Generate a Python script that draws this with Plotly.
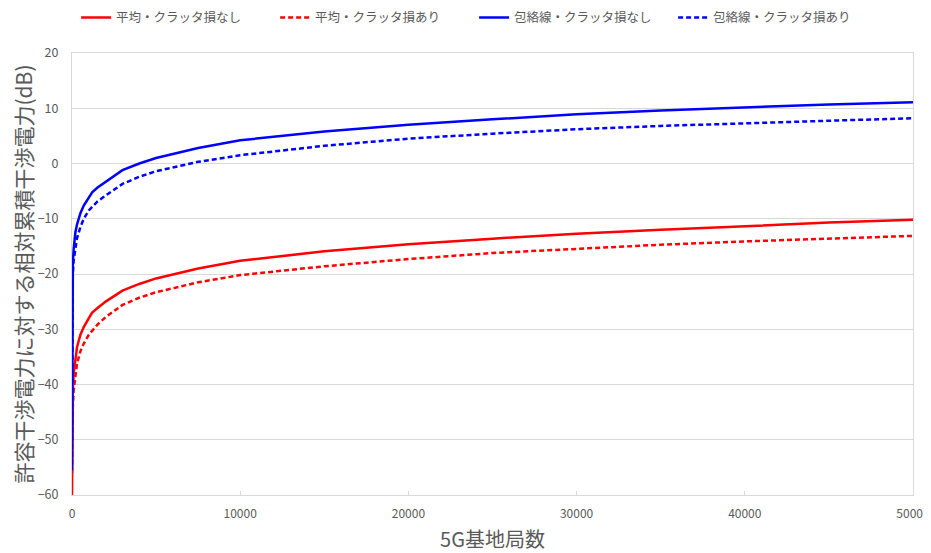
import plotly.graph_objects as go

# 5G基地局数
stations = [1, 20, 50, 100, 200, 300, 500, 700, 1000, 1200, 1500, 2000, 2500, 3000,
            4000, 5000, 7500, 10000, 15000, 20000, 25000, 30000, 35000, 40000,
            45000, 50000]

# 相対累積干渉電力 (dB)
mean_no_clutter = [-60, -45, -41, -38, -35, -33.2, -31, -29.6, -28, -27, -26.2, -25,
                   -24.0, -23, -21.8, -20.8, -19, -17.6, -15.9, -14.6, -13.6, -12.7,
                   -12.0, -11.3, -10.7, -10.2]
mean_clutter = [-56, -48, -44, -41, -38, -36.2, -34, -32.6, -31, -30.3, -29.2, -27.8,
                -26.7, -25.6, -24.3, -23.3, -21.5, -20.2, -18.6, -17.3, -16.2, -15.4,
                -14.7, -14.1, -13.6, -13.1]
env_no_clutter = [-55.5, -25, -18, -15.5, -12.5, -11, -9, -7.6, -6, -5.2, -4.4, -3.3,
                  -2.2, -1.2, 0, 1.0, 2.8, 4.2, 5.8, 7.0, 8.0, 8.9, 9.6, 10.2, 10.7, 11.1]
env_clutter = [-50, -28, -20, -17.5, -15, -13.5, -11.5, -10, -8.5, -7.8, -6.9, -5.8,
               -4.7, -3.7, -2.4, -1.4, 0.3, 1.5, 3.2, 4.5, 5.4, 6.2, 6.8, 7.3, 7.8, 8.2]

series_names = ["平均・クラッタ損なし", "平均・クラッタ損あり",
                "包絡線・クラッタ損なし", "包絡線・クラッタ損あり"]

FONT = "Noto Sans CJK JP"
GRAY = "#595959"
GRID = "#d9d9d9"

fig = go.Figure()
for name, ys, color, dash in [
    (series_names[0], mean_no_clutter, "#ff0000", "solid"),
    (series_names[1], mean_clutter, "#ff0000", "5px,3px"),
    (series_names[2], env_no_clutter, "#0000ff", "solid"),
    (series_names[3], env_clutter, "#0000ff", "5px,3px"),
]:
    fig.add_trace(go.Scatter(x=stations, y=ys, mode="lines", name=name,
                             line=dict(color=color, width=2.5, dash=dash)))

# the page body adds an 8px offset, so the figure is a bit smaller than the window
fig.update_layout(
    width=923, height=545,
    margin=dict(l=64, r=18, t=45, b=58, autoexpand=False),
    paper_bgcolor="white", plot_bgcolor="white",
    font=dict(family=FONT, color=GRAY, size=12),
    showlegend=True,
    legend=dict(orientation="h", x=0.505, xanchor="center", y=0.982, yanchor="middle",
                xref="container", yref="container",
                font=dict(size=12.5, color=GRAY),
                itemwidth=30, entrywidth=154, tracegroupgap=0),
)

fig.update_xaxes(
    range=[0, 50000], tickvals=[0, 10000, 20000, 30000, 40000, 50000],
    tickformat="d", showgrid=False, zeroline=False, automargin=False,
    showline=True, linecolor=GRID, linewidth=1, mirror=True,
    ticks="inside", ticklen=4, tickcolor=GRID, ticklabeloverflow="allow",
    tickfont=dict(size=12, color=GRAY), ticklabelstandoff=8,
    title=dict(text="5G基地局数", font=dict(size=20, color=GRAY), standoff=20),
)
fig.update_yaxes(
    range=[-60, 20], dtick=10, showgrid=True, gridcolor=GRID, gridwidth=1,
    zeroline=False, showline=True, linecolor=GRID, linewidth=1, mirror=True,
    automargin=False,
    tickfont=dict(size=12.5, color=GRAY), ticklabelstandoff=10,
    title=dict(text="許容干渉電力に対する相対累積干渉電力(dB)",
               font=dict(size=21, color=GRAY), standoff=6),
)

fig.write_html("out.html")
